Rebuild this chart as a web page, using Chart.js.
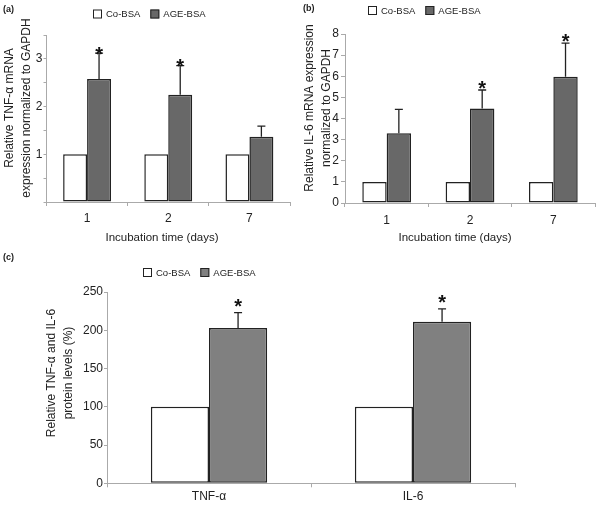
<!DOCTYPE html>
<html>
<head>
<meta charset="utf-8">
<script src="https://cdn.jsdelivr.net/npm/chart.js@4"></script>
<style>
  body { margin: 0; background: #fff; }
  #wrap { position: relative; width: 600px; height: 506px; }
  canvas { position: absolute; }
</style>
</head>
<body>
<div id="wrap">
  <canvas id="chartA" width="300" height="250" style="left:0;top:0"></canvas>
  <canvas id="chartB" width="300" height="250" style="left:300px;top:0"></canvas>
  <canvas id="chartC" width="600" height="256" style="left:0;top:250px"></canvas>
</div>
<script>
// DATA
const dayLabels = ['1', '2', '7'];
const tnfCo = [1, 1, 1];
const tnfAge = [2.58, 2.25, 1.37];
const tnfAgeErr = [0.54, 0.61, 0.22];
const tnfStars = [true, true, false];

const il6Co = [1, 1, 1];
const il6Age = [3.30, 4.47, 5.98];
const il6AgeErr = [1.13, 0.88, 1.59];
const il6Stars = [false, true, true];

const proteinLabels = ['TNF-\u03B1', 'IL-6'];
const proteinCo = [100, 100];
const proteinAge = [203, 211];
const proteinAgeErr = [20, 17];
const proteinStars = [true, true];

const FONT = '"Liberation Sans", Arial, sans-serif';
Chart.defaults.font.family = FONT;
Chart.defaults.color = '#222';

// error bars (upper half only) + significance stars
const errorBars = {
  id: 'errorBars',
  afterDatasetsDraw(chart, args, o) {
    const ctx = chart.ctx, y = chart.scales.y;
    ctx.save();
    chart.data.datasets.forEach((ds, i) => {
      if (!ds.errors) return;
      chart.getDatasetMeta(i).data.forEach((bar, j) => {
        const top = y.getPixelForValue(ds.data[j] + ds.errors[j]);
        ctx.strokeStyle = '#222';
        ctx.lineWidth = 1.3;
        ctx.beginPath();
        ctx.moveTo(bar.x, bar.y);
        ctx.lineTo(bar.x, top);
        ctx.moveTo(bar.x - 4, top);
        ctx.lineTo(bar.x + 4, top);
        ctx.stroke();
        if (ds.stars && ds.stars[j]) {
          ctx.fillStyle = '#111';
          ctx.font = 'bold 20px ' + FONT;
          ctx.textAlign = 'center';
          ctx.textBaseline = 'alphabetic';
          ctx.fillText('*', bar.x, top - o.starGap + 8.6);
        }
      });
    });
    ctx.restore();
  }
};

// panel tag, legend and axis titles
const panelDecor = {
  id: 'panelDecor',
  afterDraw(chart, args, o) {
    const ctx = chart.ctx;
    ctx.save();
    ctx.fillStyle = '#222';
    ctx.textBaseline = 'middle';
    ctx.textAlign = 'left';
    ctx.font = 'bold 9px ' + FONT;
    ctx.fillText(o.tag, o.tagX, o.tagY);

    ctx.font = '9.5px ' + FONT;
    let x = o.legendX;
    chart.data.datasets.forEach(ds => {
      ctx.fillStyle = ds.backgroundColor;
      ctx.fillRect(x, o.legendY - 4.5, 9, 9);
      ctx.strokeStyle = '#222';
      ctx.lineWidth = 1;
      ctx.strokeRect(x + 0.5, o.legendY - 4, 8, 8);
      ctx.fillStyle = '#222';
      ctx.fillText(ds.label, x + 13, o.legendY + 0.5);
      x += 13 + ctx.measureText(ds.label).width + 10;
    });

    ctx.font = '12px ' + FONT;
    ctx.textAlign = 'center';
    ctx.save();
    ctx.translate(o.yTitleX, o.yTitleY);
    ctx.rotate(-Math.PI / 2);
    o.yTitle.forEach((t, i) => ctx.fillText(t, 0, i * 17));
    ctx.restore();
    if (o.xTitle) {
      ctx.font = '11.5px ' + FONT;
      ctx.fillText(o.xTitle, o.xTitleX, o.xTitleY);
    }
    ctx.restore();
  }
};

function makeChart(id, s) {
  return new Chart(document.getElementById(id), {
    type: 'bar',
    data: {
      labels: s.labels,
      datasets: [
        { label: 'Co-BSA', data: s.co, backgroundColor: '#ffffff', borderColor: '#222',
          borderWidth: 1.5, borderSkipped: false,
          categoryPercentage: s.catPct, barPercentage: 1 },
        { label: 'AGE-BSA', data: s.age, errors: s.err, stars: s.stars,
          backgroundColor: s.ageColor, borderColor: '#222',
          borderWidth: 1.5, borderSkipped: false,
          categoryPercentage: s.catPct, barPercentage: 1 }
      ]
    },
    options: {
      responsive: false,
      animation: false,
      layout: { padding: s.padding },
      plugins: {
        legend: { display: false },
        tooltip: { enabled: false },
        errorBars: { starGap: s.starGap },
        panelDecor: s.decor
      },
      scales: {
        x: {
          grid: { drawOnChartArea: false, tickLength: 4, color: '#aaa' },
          border: { color: '#aaa' },
          ticks: { padding: s.xTickPad, font: { size: 12 }, color: '#222' },
          afterFit: sc => { sc.height = s.xHeight; }
        },
        y: {
          min: 0, max: s.yMax,
          grid: { drawOnChartArea: false, tickLength: s.yTickLen, color: '#aaa' },
          border: { color: '#aaa' },
          ticks: { stepSize: s.yStep, padding: s.yTickPad, font: { size: 12 }, color: '#222',
                   callback: s.yCallback },
          afterFit: sc => { sc.width = s.yWidth; }
        }
      }
    },
    plugins: [errorBars, panelDecor]
  });
}

makeChart('chartA', {
  labels: dayLabels, co: tnfCo, age: tnfAge, err: tnfAgeErr, stars: tnfStars,
  ageColor: '#686868', catPct: 0.59,
  padding: { top: 35, right: 10, left: 0, bottom: 0 },
  xHeight: 48, yWidth: 46.5, yMax: 3.5, yStep: 0.5, yTickLen: 3, yTickPad: 1, xTickPad: 5,
  yCallback: v => (v % 1 === 0 && v > 0) ? v : '',
  starGap: 1,
  decor: { tag: '(a)', tagX: 3, tagY: 10, legendX: 93, legendY: 14,
           yTitle: ['Relative TNF-\u03B1 mRNA', 'expression normalized to GAPDH'],
           yTitleX: 10, yTitleY: 108,
           xTitle: 'Incubation time (days)', xTitleX: 162, xTitleY: 238 }
});

makeChart('chartB', {
  labels: dayLabels, co: il6Co, age: il6Age, err: il6AgeErr, stars: il6Stars,
  ageColor: '#686868', catPct: 0.585,
  padding: { top: 34, right: 5, left: 0, bottom: 0 },
  xHeight: 47, yWidth: 45, yMax: 8, yStep: 1, yTickLen: 4, yTickPad: 2, xTickPad: 6,
  yCallback: v => v,
  starGap: 4,
  decor: { tag: '(b)', tagX: 3, tagY: 9, legendX: 68, legendY: 10.5,
           yTitle: ['Relative IL-6 mRNA expression', 'normalized to GAPDH'],
           yTitleX: 10, yTitleY: 108,
           xTitle: 'Incubation time (days)', xTitleX: 155, xTitleY: 238 }
});

makeChart('chartC', {
  labels: proteinLabels, co: proteinCo, age: proteinAge, err: proteinAgeErr, stars: proteinStars,
  ageColor: '#808080', catPct: 0.57,
  padding: { top: 42, right: 85, left: 0, bottom: 0 },
  xHeight: 22.7, yWidth: 107, yMax: 250, yStep: 50, yTickLen: 3, yTickPad: 1, xTickPad: 2.5,
  yCallback: v => v,
  starGap: 8,
  decor: { tag: '(c)', tagX: 3, tagY: 7.5, legendX: 143, legendY: 22.5,
           yTitle: ['Relative TNF-\u03B1 and IL-6', 'protein levels (%)'],
           yTitleX: 52, yTitleY: 123 }
});
</script>
</body>
</html>
